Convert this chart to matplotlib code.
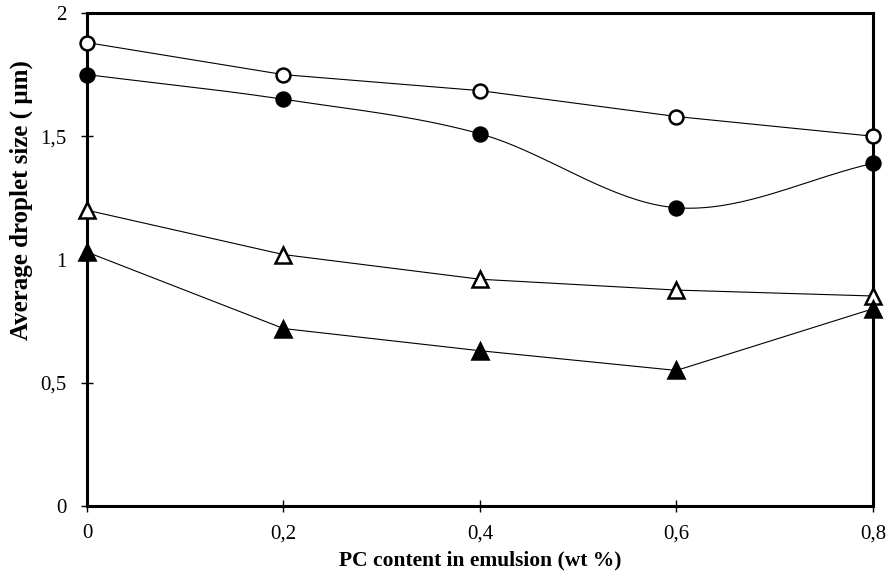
import numpy as np
import matplotlib
matplotlib.use("Agg")
import matplotlib.pyplot as plt
from matplotlib.ticker import FuncFormatter

# PC content (wt %) and mean droplet size (um) for each series
pc_content = [0.0, 0.2, 0.4, 0.6, 0.8]
open_circles = [1.88, 1.75, 1.685, 1.58, 1.50]
filled_circles = [1.75, 1.65, 1.51, 1.21, 1.39]
open_triangles = [1.20, 1.02, 0.92, 0.876, 0.852]
filled_triangles = [1.03, 0.72, 0.63, 0.55, 0.80]

x_ticks = [0, 0.2, 0.4, 0.6, 0.8]
y_ticks = [0, 0.5, 1, 1.5, 2]


def smooth(x, y, steps=40):
    # Catmull-Rom curve through the points, like a spreadsheet "smoothed line"
    x = np.asarray(x, float)
    y = np.asarray(y, float)
    px = np.concatenate([[2 * x[0] - x[1]], x, [2 * x[-1] - x[-2]]])
    py = np.concatenate([[2 * y[0] - y[1]], y, [2 * y[-1] - y[-2]]])
    xs, ys = [], []
    t = np.linspace(0, 1, steps)
    for i in range(1, len(px) - 2):
        for p, out in ((px, xs), (py, ys)):
            p0, p1, p2, p3 = p[i - 1], p[i], p[i + 1], p[i + 2]
            out.extend(0.5 * (2 * p1 + (-p0 + p2) * t
                              + (2 * p0 - 5 * p1 + 4 * p2 - p3) * t ** 2
                              + (-p0 + 3 * p1 - 3 * p2 + p3) * t ** 3))
    return np.array(xs), np.array(ys)


plt.rcParams['font.family'] = ['Liberation Serif', 'DejaVu Serif']

fig = plt.figure(figsize=(8.88, 5.77), dpi=100)
ax = fig.add_axes([0.098, 0.123, 0.885, 0.8545])

# (values, marker, face colour, size, smoothed line?)
series = [
    (open_circles, 'o', 'white', 10, False),
    (filled_circles, 'o', 'black', 10, True),
    (open_triangles, '^', 'white', 12, False),
    (filled_triangles, '^', 'black', 12, False),
]
for vals, mk, face, ms, curved in series:
    if curved:
        sx, sy = smooth(pc_content, vals)
    else:
        sx, sy = pc_content, vals
    ax.plot(sx, sy, color='black', lw=0.8, zorder=2)
    ax.plot(pc_content, vals, ls='none', marker=mk, ms=ms, mfc=face,
            mec='black', mew=1.8, zorder=3, clip_on=False)

ax.set_xlim(0, 0.8)
ax.set_ylim(0, 2)
ax.set_xticks(x_ticks)
ax.set_yticks(y_ticks)
comma = FuncFormatter(lambda v, p: ('%g' % v).replace('.', ','))
ax.xaxis.set_major_formatter(comma)
ax.yaxis.set_major_formatter(comma)
ax.tick_params(direction='inout', length=8, width=1, labelsize=15,
               colors='black')
ax.tick_params(axis='x', pad=9)
ax.tick_params(axis='y', pad=11)

for s in ax.spines.values():
    s.set_linewidth(2.2)
    s.set_color('black')

ax.set_xlabel('PC content in emulsion (wt %)', fontsize=15.5,
              fontweight='bold', labelpad=5)
ax.set_ylabel('Average droplet size ( \u00b5m)', fontsize=18,
              fontweight='bold')
ax.yaxis.set_label_coords(-0.069, 0.62)

fig.savefig('out.png', dpi=100, facecolor='white')
